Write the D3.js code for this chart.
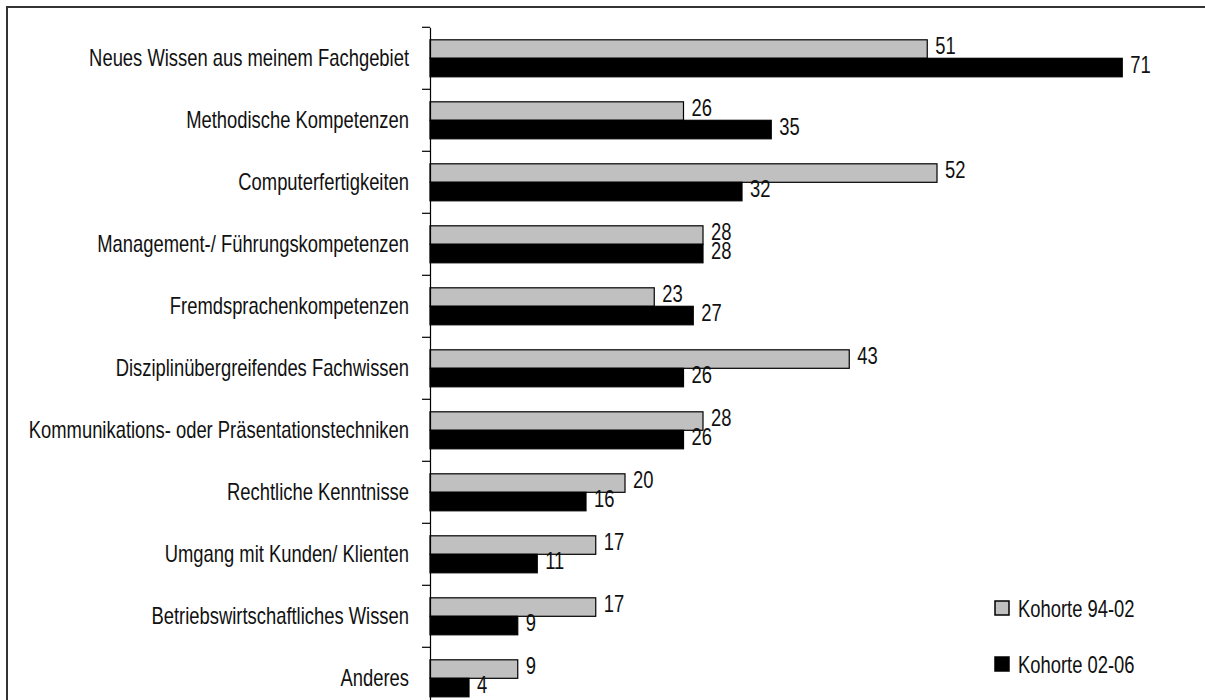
<!DOCTYPE html>
<html>
<head>
<meta charset="utf-8">
<script src="https://cdn.jsdelivr.net/npm/d3@7"></script>
<style>
  html, body { margin: 0; padding: 0; background: #fff; }
  svg { display: block; }
</style>
</head>
<body>
<div id="chart"></div>
<script>
// categories, top to bottom
const categories = [
  "Neues Wissen aus meinem Fachgebiet",
  "Methodische Kompetenzen",
  "Computerfertigkeiten",
  "Management-/ Führungskompetenzen",
  "Fremdsprachenkompetenzen",
  "Disziplinübergreifendes Fachwissen",
  "Kommunikations- oder Präsentationstechniken",
  "Rechtliche Kenntnisse",
  "Umgang mit Kunden/ Klienten",
  "Betriebswirtschaftliches Wissen",
  "Anderes"
];
const seriesNames = ["Kohorte 94-02", "Kohorte 02-06"];
const kohorte9402 = [51, 26, 52, 28, 23, 43, 28, 20, 17, 17, 9];
const kohorte0206 = [71, 35, 32, 28, 27, 26, 26, 16, 11, 9, 4];

const W = 1205, H = 700;
// no narrow font installed: squeeze Liberation Sans horizontally instead
const font = "'Liberation Sans Narrow', 'Arial Narrow', 'Liberation Sans', Arial, sans-serif";
const fs = 23;
const squeeze = 0.8;

const svg = d3.select('#chart').append('svg')
  .attr('width', W).attr('height', H)
  .attr('viewBox', [0, 0, W, H]);

// frame (runs past right and bottom edges)
svg.append('rect')
  .attr('x', 7).attr('y', 7)
  .attr('width', W + 20).attr('height', H + 20)
  .attr('fill', 'none').attr('stroke', '#333').attr('stroke-width', 2);

const x = d3.scaleLinear().domain([0, 75]).range([430, 430 + 75 * 9.75]);
const y = d3.scaleBand().domain(categories).range([27.3, 27.3 + 62 * categories.length]).padding(0);
const y1 = d3.scaleBand().domain(seriesNames).range([0, y.bandwidth()]).paddingInner(0).paddingOuter(0.676);

const rows = categories.map((c, i) => ({ cat: c, vals: [
  { s: seriesNames[0], v: kohorte9402[i] },
  { s: seriesNames[1], v: kohorte0206[i] }
]}));

const fill = { "Kohorte 94-02": "#c0c0c0", "Kohorte 02-06": "#000" };

// squeezed text at (tx, ty), appended into each element of sel
function label(sel, tx, ty, anchor, txt) {
  sel.append('g')
    .attr('transform', d => `translate(${tx(d)},${ty(d)}) scale(${squeeze},1)`)
    .append('text')
    .attr('dy', '0.35em')
    .attr('text-anchor', anchor)
    .attr('font-family', font).attr('font-size', fs).attr('fill', '#111')
    .text(txt);
}

const g = svg.append('g');
const row = g.selectAll('g.row').data(rows).join('g')
  .attr('class', 'row')
  .attr('transform', d => `translate(0,${y(d.cat)})`);

row.selectAll('rect').data(d => d.vals).join('rect')
  .attr('x', x(0))
  .attr('y', d => y1(d.s))
  .attr('width', d => x(d.v) - x(0))
  .attr('height', y1.bandwidth())
  .attr('fill', d => fill[d.s])
  .attr('stroke', '#000')
  .attr('stroke-width', 1.2);

row.selectAll('g.val').data(d => d.vals).join('g')
  .attr('class', 'val')
  .call(label, d => x(d.v) + 8, d => y1(d.s) + y1.bandwidth() / 2 - 3, 'start', d => d.v);

// y axis
const axis = svg.append('g')
  .attr('transform', `translate(${x(0)},0)`)
  .call(d3.axisLeft(y).tickValues([]).tickSizeOuter(0));
axis.select('.domain').attr('stroke', '#000').attr('stroke-width', 1.2);
const ticks = d3.range(categories.length + 1).map(i => 27.3 + 62 * i);
axis.selectAll('line.tk').data(ticks).join('line')
  .attr('class', 'tk')
  .attr('x1', -8).attr('x2', 0)
  .attr('y1', d => d).attr('y2', d => d)
  .attr('stroke', '#000').attr('stroke-width', 1.2);

svg.append('g').selectAll('g').data(categories).join('g')
  .call(label, () => 409, d => y(d) + y.bandwidth() / 2, 'end', d => d);

// legend
const leg = svg.append('g').attr('transform', 'translate(995,601)');
const li = leg.selectAll('g').data(seriesNames).join('g')
  .attr('transform', (d, i) => `translate(0,${i * 56})`);
li.append('rect')
  .attr('width', 14).attr('height', 14)
  .attr('fill', d => fill[d]).attr('stroke', '#000').attr('stroke-width', 1.5);
li.call(label, () => 23, () => 7.5, 'start', d => d);
</script>
</body>
</html>
